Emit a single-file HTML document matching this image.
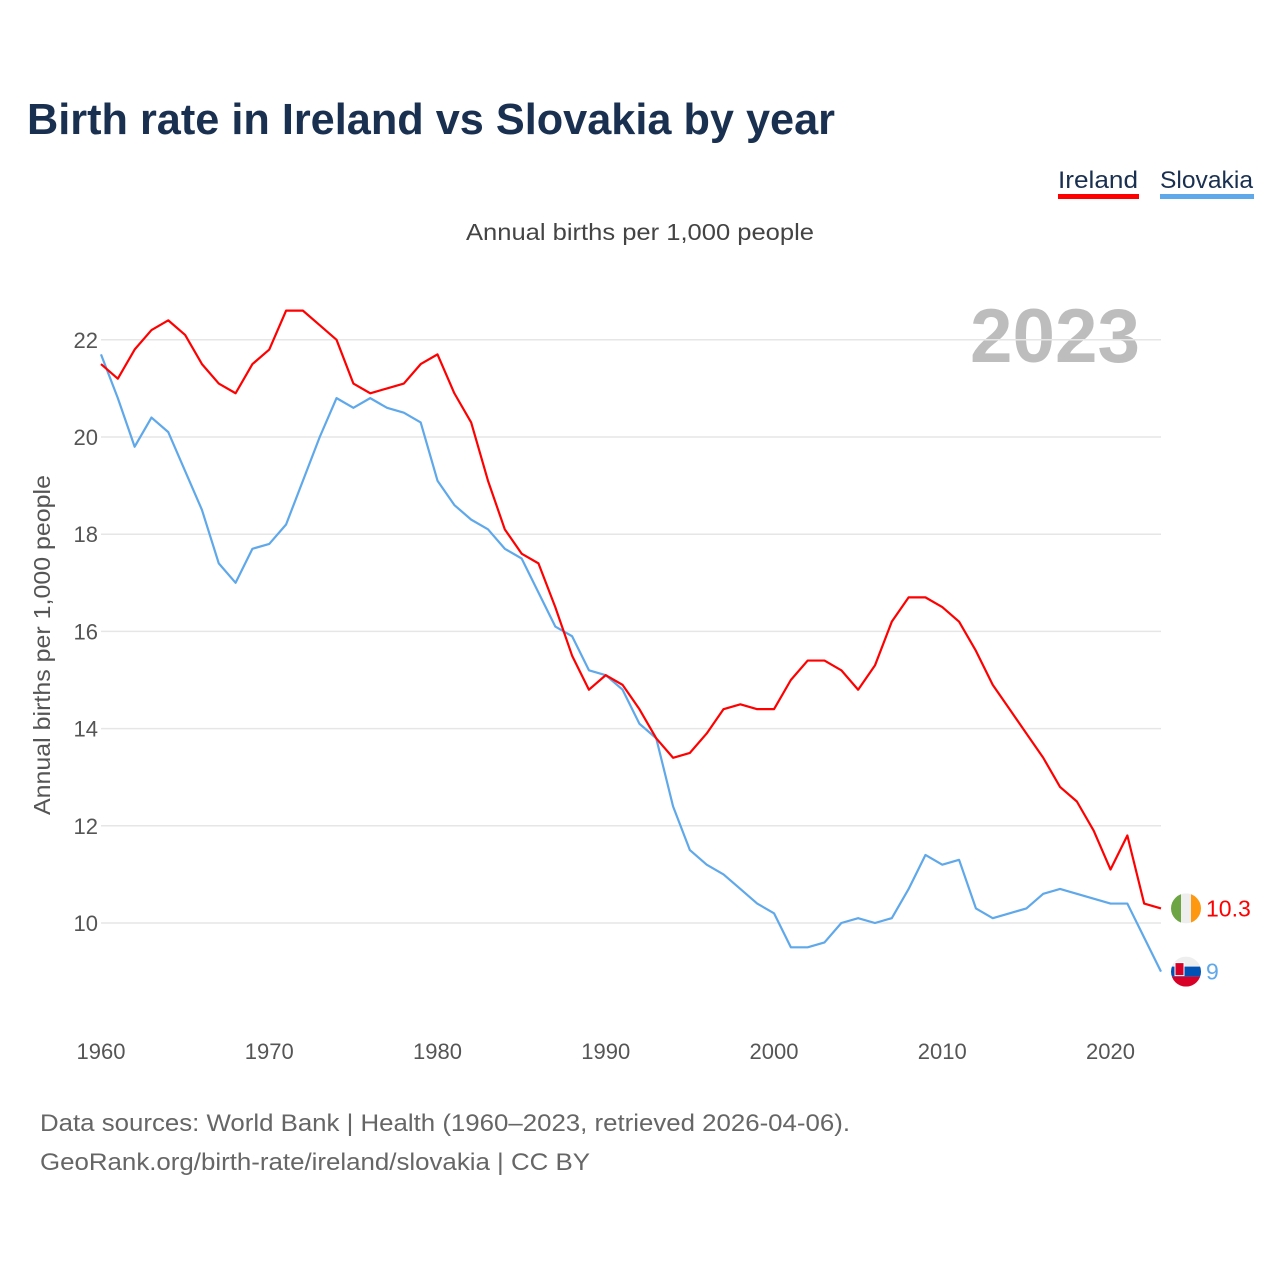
<!DOCTYPE html>
<html><head><meta charset="utf-8"><style>
html,body{margin:0;padding:0;background:#fff;}
svg{display:block;font-family:"Liberation Sans",sans-serif;}
</style></head><body>
<svg id="chart" width="1280" height="1280" viewBox="0 0 1280 1280">
<text x="27" y="134" font-size="44" font-weight="bold" fill="#1a3050" textLength="808" lengthAdjust="spacingAndGlyphs">Birth rate in Ireland vs Slovakia by year</text>
<g>
<text x="1058" y="188" font-size="24" fill="#1a3050" textLength="80" lengthAdjust="spacingAndGlyphs">Ireland</text>
<rect x="1058" y="194" width="81" height="5" fill="#ff0000"/>
</g>
<g>
<text x="1160" y="188" font-size="24" fill="#1a3050" textLength="93" lengthAdjust="spacingAndGlyphs">Slovakia</text>
<rect x="1160" y="194" width="94" height="5" fill="#5fa8ea"/>
</g>
<text x="640" y="240" font-size="23" fill="#444" text-anchor="middle" textLength="348" lengthAdjust="spacingAndGlyphs">Annual births per 1,000 people</text>
<text x="1140" y="362" font-size="76" font-weight="bold" fill="#bdbdbd" text-anchor="end" textLength="170" lengthAdjust="spacingAndGlyphs">2023</text>
<text transform="translate(50,645) rotate(-90)" font-size="23" fill="#555" text-anchor="middle" textLength="340" lengthAdjust="spacingAndGlyphs">Annual births per 1,000 people</text>
<g id="grid"></g><g id="xticks"></g><g id="lines"></g><g id="ends"></g>
<text x="40" y="1131" font-size="24" fill="#666" textLength="810" lengthAdjust="spacingAndGlyphs">Data sources: World Bank | Health (1960–2023, retrieved 2026-04-06).</text>
<text x="40" y="1170" font-size="24" fill="#666" textLength="550" lengthAdjust="spacingAndGlyphs">GeoRank.org/birth-rate/ireland/slovakia | CC BY</text>
</svg>
<script>
const years = Array.from({length:64},(_, i)=>1960+i);
const ireland = [21.5,21.2,21.8,22.2,22.4,22.1,21.5,21.1,20.9,21.5,21.8,22.6,22.6,22.3,22.0,21.1,20.9,21.0,21.1,21.5,21.7,20.9,20.3,19.1,18.1,17.6,17.4,16.5,15.5,14.8,15.1,14.9,14.4,13.8,13.4,13.5,13.9,14.4,14.5,14.4,14.4,15.0,15.4,15.4,15.2,14.8,15.3,16.2,16.7,16.7,16.5,16.2,15.6,14.9,14.4,13.9,13.4,12.8,12.5,11.9,11.1,11.8,10.4,10.3];
const slovakia = [21.7,20.8,19.8,20.4,20.1,19.3,18.5,17.4,17.0,17.7,17.8,18.2,19.1,20.0,20.8,20.6,20.8,20.6,20.5,20.3,19.1,18.6,18.3,18.1,17.7,17.5,16.8,16.1,15.9,15.2,15.1,14.8,14.1,13.8,12.4,11.5,11.2,11.0,10.7,10.4,10.2,9.5,9.5,9.6,10.0,10.1,10.0,10.1,10.7,11.4,11.2,11.3,10.3,10.1,10.2,10.3,10.6,10.7,10.6,10.5,10.4,10.4,9.7,9.0];
const yTicks = [10,12,14,16,18,20,22];
const xTicks = [1960,1970,1980,1990,2000,2010,2020];
const NS='http://www.w3.org/2000/svg';
const x = y => 101 + (y-1960)*(1161-101)/63;
const yv = v => 923 - (v-10)*48.6;
function mk(tag, attrs, parent){const e=document.createElementNS(NS,tag);for(const k in attrs)e.setAttribute(k,attrs[k]);parent.appendChild(e);return e;}
const grid=document.getElementById('grid');
yTicks.forEach(t=>{
  const l=mk('line',{x1:101,x2:1161,y1:yv(t),y2:yv(t),stroke:'#e6e6e6','stroke-width':1.5},grid);
  
  
  const tx=mk('text',{x:98,y:yv(t)+8,'font-size':22,fill:'#555','text-anchor':'end'},grid);
  tx.textContent=t;
  
  
});
const xt=document.getElementById('xticks');
xTicks.forEach(t=>{
  const tx=mk('text',{x:x(t),y:1059,'font-size':22,fill:'#555','text-anchor':'middle'},xt);
  tx.textContent=t;
  
  
});
const lines=document.getElementById('lines');
function series(data,color,name){
  const p=mk('polyline',{points:data.map((v,i)=>x(years[i])+','+yv(v)).join(' '),fill:'none',stroke:color,'stroke-width':2.2,'stroke-linejoin':'round'},lines);
  
  
}
series(slovakia,'#5fa8ea','line-slovakia');
series(ireland,'#ff0000','line-ireland');
const ends=document.getElementById('ends');
const cx=1186;
// Ireland flag
const iv=ireland[ireland.length-1], iy=yv(iv);
const gI=mk('g',{},ends);


mk('defs',{},gI).innerHTML='<clipPath id="ci"><circle cx="'+cx+'" cy="'+iy+'" r="15"/></clipPath><clipPath id="cs"><circle cx="'+cx+'" cy="'+yv(slovakia[63])+'" r="15"/></clipPath>';
const fi=mk('g',{'clip-path':'url(#ci)'},gI);
mk('rect',{x:cx-15,y:iy-15,width:10,height:30,fill:'#6da544'},fi);
mk('rect',{x:cx-5,y:iy-15,width:10,height:30,fill:'#eeeeee'},fi);
mk('rect',{x:cx+5,y:iy-15,width:10,height:30,fill:'#ff9811'},fi);
const li=mk('text',{x:1206,y:iy+8,'font-size':23,fill:'#ff0000'},ends);
li.textContent=iv;


// Slovakia flag
const sv=slovakia[slovakia.length-1], sy=yv(sv);
const gS=mk('g',{},ends);


const fs=mk('g',{'clip-path':'url(#cs)'},gS);
mk('rect',{x:cx-15,y:sy-15,width:30,height:10,fill:'#eeeeee'},fs);
mk('rect',{x:cx-15,y:sy-5,width:30,height:10,fill:'#0052b4'},fs);
mk('rect',{x:cx-15,y:sy+5,width:30,height:10,fill:'#d80027'},fs);
mk('rect',{x:cx-11,y:sy-9,width:9,height:13,fill:'#d80027',stroke:'#fff','stroke-width':1},fs);
const ls=mk('text',{x:1206,y:sy+8,'font-size':23,fill:'#5fa8ea'},ends);
ls.textContent=sv;


</script>
</body></html>
